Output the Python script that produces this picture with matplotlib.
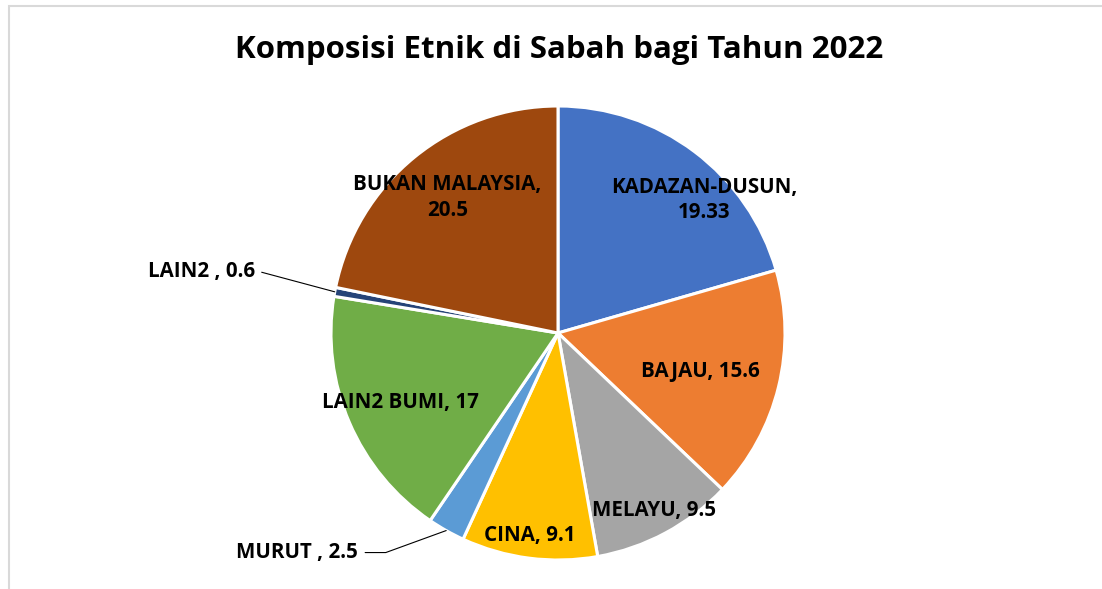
import matplotlib
matplotlib.use("Agg")
import matplotlib.pyplot as plt
import matplotlib.patches as mpatches
import numpy as np

# data
ETHNIC_GROUPS = ["KADAZAN-DUSUN", "BAJAU", "MELAYU", "CINA", "MURUT ",
                 "LAIN2 BUMI", "LAIN2 ", "BUKAN MALAYSIA"]
SHARES = [19.33, 15.6, 9.5, 9.1, 2.5, 17, 0.6, 20.5]
TITLE = "Komposisi Etnik di Sabah bagi Tahun 2022"

COLORS = ["#4472C4", "#ED7D31", "#A5A5A5", "#FFC000",
          "#5B9BD5", "#70AD47", "#264478", "#9E480E"]

# label placement: (radius fraction, angle shift deg, wrapped)
INSIDE_LABELS = {
    0: (0.87, -10.7, True),
    1: (0.65, -1.3, False),
    2: (0.89, 0.0, False),
    3: (0.90, -0.6, False),
    5: (0.76, 0.7, False),
    7: (0.77, 0.0, True),
}
# outside labels: text offset (pixels) from the wedge edge point
OUTSIDE_LABELS = {
    4: (-88, -22),
    6: (-80, 20),
}

W_PX, H_PX = 1102, 589
CX, CY, R_PX = 558, 333, 227
FONT = "Open Sans"
LABEL_SIZE = 14.8


def main() -> None:
    fig = plt.figure(figsize=(W_PX / 100, H_PX / 100), dpi=100)
    ax = fig.add_axes([0, 0, 1, 1])

    wedges, _ = ax.pie(
        SHARES,
        colors=COLORS,
        startangle=90,
        counterclock=False,
        radius=1.0,
        wedgeprops=dict(edgecolor="white", linewidth=2.2),
    )
    ax.set_aspect("auto")
    ax.set_xlim(-CX / R_PX, (W_PX - CX) / R_PX)
    ax.set_ylim(-(H_PX - CY) / R_PX, CY / R_PX)
    ax.axis("off")

    for i, w in enumerate(wedges):
        mid = np.deg2rad((w.theta1 + w.theta2) / 2)
        val = f"{SHARES[i]:g}"
        if i in INSIDE_LABELS:
            rf, shift, wrap = INSIDE_LABELS[i]
            a = mid + np.deg2rad(shift)
            sep = ",\n" if wrap else ", "
            ax.text(rf * np.cos(a), rf * np.sin(a), ETHNIC_GROUPS[i] + sep + val,
                    ha="center", va="center", fontsize=LABEL_SIZE,
                    fontweight="bold", family=FONT, linespacing=1.3)
        else:
            dx, dy = OUTSIDE_LABELS[i]
            ax.annotate(
                ETHNIC_GROUPS[i] + ", " + val,
                xy=(np.cos(mid), np.sin(mid)),
                xytext=(dx, dy), textcoords="offset pixels",
                ha="right", va="center", fontsize=LABEL_SIZE,
                fontweight="bold", family=FONT,
                arrowprops=dict(arrowstyle="-", color="black", lw=0.8,
                                shrinkA=3, shrinkB=0,
                                connectionstyle="angle,angleA=0,angleB=20,rad=0"
                                if dy < 0 else
                                "angle,angleA=0,angleB=-15,rad=0"),
            )

    fig.text(559.5 / W_PX, 1 - 58 / H_PX, TITLE, ha="center", va="baseline",
             fontsize=22.5, fontweight="bold", family=FONT)

    frame = mpatches.Rectangle((9 / W_PX, -0.1), 1.2, 1.1 - 6 / H_PX,
                               transform=fig.transFigure, fill=False,
                               edgecolor="#D9D9D9", linewidth=1.5)
    fig.patches.append(frame)

    fig.savefig("out.png", dpi=100)
    plt.close(fig)


if __name__ == "__main__":
    main()
